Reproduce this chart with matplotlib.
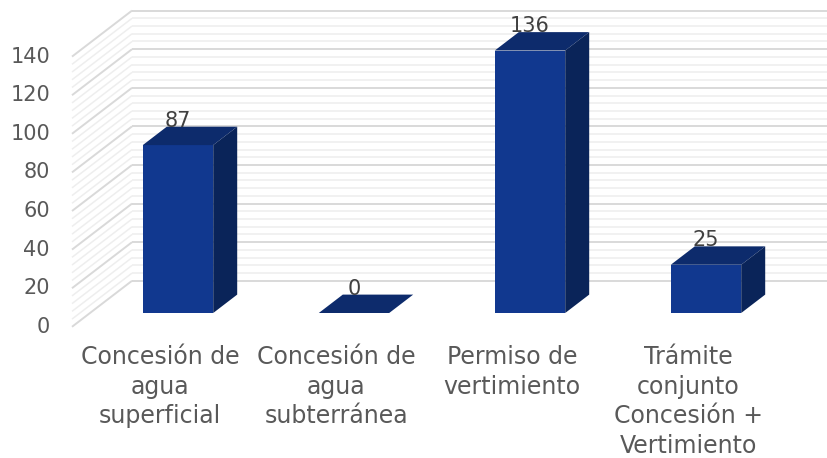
import matplotlib
matplotlib.use("Agg")
import matplotlib.pyplot as plt
from matplotlib.patches import Polygon
import numpy as np

# ---- data ----
categories = ["Concesión de\nagua\nsuperficial",
              "Concesión de\nagua\nsubterránea",
              "Permiso de\nvertimiento",
              "Trámite\nconjunto\nConcesión +\nVertimiento"]
values = [87, 0, 136, 25]
y_ticks = [0, 20, 40, 60, 80, 100, 120, 140]
minor_step = 4

# ---- styling / geometry ----
FRONT = "#11388F"
TOP = "#0D2B6C"
SIDE = "#0A2459"
MAJOR = "#d9d9d9"
MINOR = "#eeeeee"
TXT = "#595959"
LBL = "#404040"
FONT = "DejaVu Sans"

fig = plt.figure(figsize=(8.27, 4.58), dpi=100)
ax = fig.add_axes([0, 0, 1, 1])
# data space = plane of the bars' front faces
px_per_cat = 176.0
px_per_unit = 1.93
x0_px, y0_px = 178.0, 145.0
ax.set_xlim(-x0_px / px_per_cat, (827 - x0_px) / px_per_cat)
ax.set_ylim(-y0_px / px_per_unit, (458 - y0_px) / px_per_unit)
ax.axis("off")

# full depth vector (data units)
Ddx = 60 / px_per_cat
Ddy = 46 / px_per_unit
f_front = -0.3   # front plane relative to bar front
f_back = 0.7     # back wall relative to bar front
bar_w = 0.4
bdx, bdy = 0.4 * Ddx, 0.4 * Ddy

xl = -0.5
xr = ax.get_xlim()[1] + 1
ymax = y_ticks[-1]

# walls: gridlines
for v in np.arange(0, ymax + 0.001, minor_step):
    major = (v % 20 == 0)
    col = MAJOR if major else MINOR
    lw = 1.4 if major else 1.1
    z = 2 if major else 1
    bx, by = xl + f_back * Ddx, v + f_back * Ddy
    fx, fy = xl + f_front * Ddx, v + f_front * Ddy
    ax.plot([bx, xr], [by, by], color=col, lw=lw, zorder=z, solid_capstyle="butt")
    ax.plot([fx, bx], [fy, by], color=col, lw=lw, zorder=z, solid_capstyle="butt")

# bars
xs = np.arange(len(values))
ax.bar(xs, values, width=bar_w, color=FRONT, zorder=5, linewidth=0)
for x, v in zip(xs, values):
    l, r = x - bar_w / 2, x + bar_w / 2
    top = Polygon([(l, v), (r, v), (r + bdx, v + bdy), (l + bdx, v + bdy)],
                  closed=True, facecolor=TOP, edgecolor="none", zorder=6)
    ax.add_patch(top)
    if v > 0:
        side = Polygon([(r, 0), (r + bdx, bdy), (r + bdx, v + bdy), (r, v)],
                       closed=True, facecolor=SIDE, edgecolor="none", zorder=6)
        ax.add_patch(side)
    ax.text(x, v + bdy, f"{v}", ha="center", va="baseline", fontsize=15,
            color=LBL, family=FONT, zorder=7)

# y tick labels on front plane
for t in y_ticks:
    ax.annotate(str(t), xy=(xl + f_front * Ddx, t + f_front * Ddy),
                xytext=(-22, 0), textcoords="offset pixels",
                ha="right", va="center", fontsize=15, color=TXT, family=FONT)

# category labels
for x, c in zip(xs, categories):
    ax.annotate(c, xy=(x + f_front * Ddx, f_front * Ddy),
                xytext=(0, -18), textcoords="offset pixels",
                ha="center", va="top", fontsize=17, color=TXT, family=FONT,
                linespacing=1.3, multialignment="center")

fig.savefig("out.png", dpi=100)
